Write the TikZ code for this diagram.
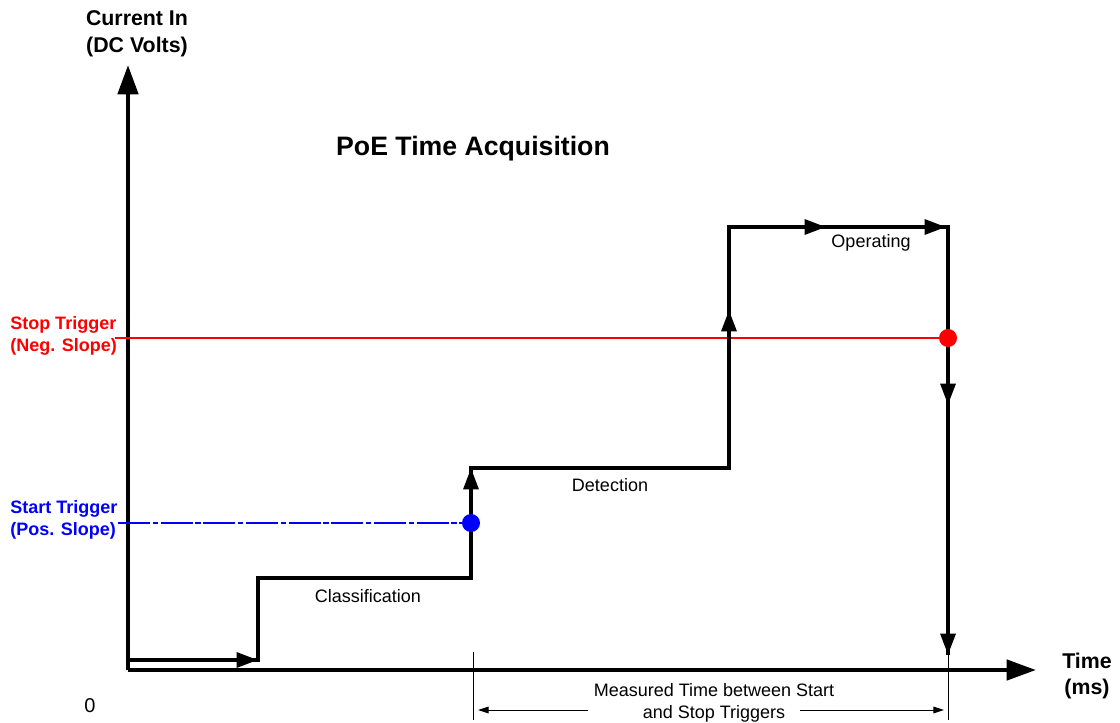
\documentclass[tikz,border=0pt]{standalone}
\usepackage{fontspec}
\setmainfont{Liberation Sans}
\usetikzlibrary{arrows.meta}

\begin{document}
\begin{tikzpicture}[x=0.75pt,y=-0.75pt,
  axis/.style={line width=3.4pt,-{Triangle[length=22pt,width=15pt]}},
  sig/.style={line width=3pt,line join=miter},
  sigarr/.style={line width=3pt,-{Triangle[length=16pt,width=11pt]}},
  lbl/.style={font=\fontsize{13.5}{17}\selectfont,inner sep=0pt},
  trig/.style={font=\fontsize{13.5}{17}\selectfont\bfseries,inner sep=0pt,align=left,anchor=west},
  dimarr/.style={line width=0.75pt,-{Triangle[length=8pt,width=5pt]}}]
\useasboundingbox (0,0) rectangle (1120,723);

% axes
\coordinate (orig) at (128,670);
\coordinate (ytop) at (128,65);
\coordinate (xend) at (1036,670);
\draw[axis] (orig) -- (ytop);
\draw[axis] (orig) -- (xend);
\node[font=\fontsize{16}{20}\selectfont\bfseries,align=center] (ylab) at (137,34) {Current In\\(DC Volts)};
\node[font=\fontsize{16}{20}\selectfont\bfseries,align=center] (xlab) at (1087,676) {Time\\(ms)};
\node[font=\fontsize{15}{18}\selectfont,inner sep=0pt] (zero) at (90,706) {0};
\node[font=\fontsize{20}{24}\selectfont\bfseries] (title) at (473,149) {PoE Time Acquisition};

% trigger levels
\node[trig,red] (stop) at (10,336) {Stop Trigger\\(Neg. Slope)};
\node[trig,blue] (start) at (10,520) {Start Trigger\\(Pos. Slope)};
\coordinate (rl) at (115,338);
\coordinate (rdot) at (948,338);
\coordinate (bl) at (118,523);
\coordinate (bdot) at (471,523);
\draw[red,line width=1.1pt] (rl) -- (rdot);
\draw[blue,line width=1.5pt,dash pattern=on 24pt off 2pt on 4pt off 2pt] (bl) -- (bdot);

% signal
\coordinate (s0) at (128,660);
\coordinate (s1) at (258,660);
\coordinate (s2) at (258,578);
\coordinate (s3) at (471,578);
\coordinate (s4) at (471,468);
\coordinate (s5) at (729,468);
\coordinate (s6) at (729,227);
\coordinate (s7) at (948,227);
\coordinate (s8) at (948,655);
\coordinate (m1) at (729,310);
\coordinate (m2) at (826,227);
\coordinate (m3) at (946,227);
\coordinate (m4) at (948,405);
\draw[sig] (s0) -- (s1) -- (s2) -- (s3) -- (s4) -- (s5) -- (s6) -- (s7) -- (s8);
\draw[sigarr] (s0) -- (s1);
\draw[sigarr] (s3) -- (s4);
\draw[sigarr] (s5) -- (m1);
\draw[sigarr] (s6) -- (m2);
\draw[sigarr] (m2) -- (m3);
\draw[sigarr] (s7) -- (m4);
\draw[sigarr] (m4) -- (s8);
\fill[blue] (bdot) circle (9);
\fill[red] (rdot) circle (9);

\node[lbl] (cls) at (368,596) {Classification};
\node[lbl] (det) at (610,485) {Detection};
\node[lbl] (opr) at (871,243) {Operating};

% measured interval
\coordinate (t1a) at (473,652);
\coordinate (t1b) at (473,720);
\coordinate (t2a) at (948,655);
\coordinate (t2b) at (948,720);
\draw[line width=0.75pt] (t1a) -- (t1b);
\draw[line width=0.75pt] (t2a) -- (t2b);
\node[lbl,align=center] (meas) at (714,703) {Measured Time between Start\\and Stop Triggers};
\coordinate (al) at (588,710);
\coordinate (ar) at (800,710);
\draw[dimarr] (al) -- (478,710);
\draw[dimarr] (ar) -- (944,710);
\end{tikzpicture}
\end{document}
